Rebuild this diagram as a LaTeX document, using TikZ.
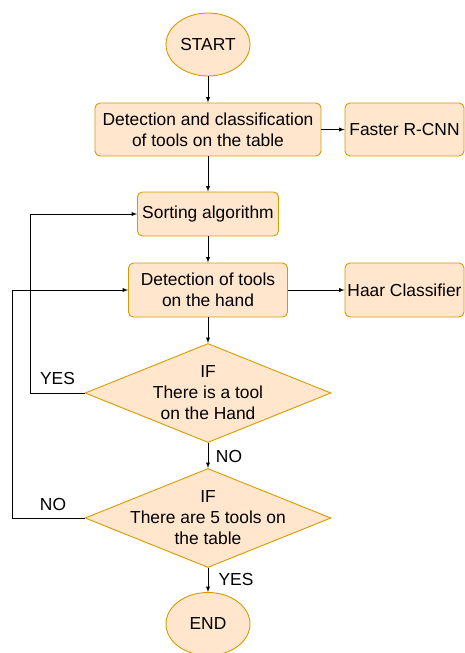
\documentclass[tikz,border=0pt]{standalone}
\usepackage{fontspec}
\setmainfont{Liberation Sans}
\usetikzlibrary{shapes.geometric}
\definecolor{boxfill}{HTML}{FFE6CC}
\definecolor{boxline}{HTML}{D79B00}

\begin{document}
\begin{tikzpicture}[x=1pt,y=-1pt,line width=0.9pt,
  font=\fontsize{17.4}{21}\selectfont,
  box/.style={draw=boxline,fill=boxfill,rounded corners=5pt,align=center,inner sep=0pt},
  term/.style={ellipse,draw=boxline,fill=boxfill,minimum width=84pt,minimum height=63pt,inner sep=0pt},
  cond/.style={diamond,draw=boxline,fill=boxfill,minimum width=246pt,minimum height=99pt,inner sep=0pt},
  txt/.style={align=center,inner sep=0pt}]
          \useasboundingbox (0,0) rectangle (465,653);

          \node [term] (start) at (208,44.5) {START};
          \node [box,minimum width=226pt,minimum height=53pt] (detect) at (208,129.5) {Detection and classification\\of tools on the table};
          \node [box,minimum width=119pt,minimum height=53pt] (rcnn) at (404.5,129.5) {Faster R-CNN};
          \node [box,minimum width=141pt,minimum height=44pt] (sort) at (208,214) {Sorting algorithm};
          \node [box,minimum width=159pt,minimum height=54pt] (hand) at (208,290) {Detection of tools\\on the hand};
          \node [box,minimum width=119pt,minimum height=54pt] (haar) at (404.5,290) {Haar Classifier};
          \node [cond,label={[txt]center:IF\\There is a tool\\on the Hand}] (cond1) at (208,393) {};
          \node [cond,label={[txt]center:IF\\There are 5 tools on\\the table}] (cond2) at (208,518) {};
          \node [term] (end) at (208,624) {END};

          \coordinate (yesbend) at (30,393);
          \coordinate (nobend) at (12,518);

          \node [txt] (yes1) at (57.5,379) {YES};
          \node [txt] (no1) at (229,457) {NO};
          \node [txt] (no2) at (53,505) {NO};
          \node [txt] (yes2) at (236,580) {YES};

          \draw [-latex] (start) edge (detect);
          \draw [-latex] (detect) edge (rcnn);
          \draw [-latex] (detect) edge (sort);
          \draw [-latex] (sort) edge (hand);
          \draw [-latex] (hand) edge (haar);
          \draw [-latex] (hand) edge (cond1);
          \draw [-latex] (cond1) edge (cond2);
          \draw [-latex] (cond2) edge (end);
          \draw [-latex] (cond1.west) -- (yesbend) |- (sort.west);
          \draw [-latex] (cond2.west) -- (nobend) |- (hand.west);

\end{tikzpicture}
\end{document}
